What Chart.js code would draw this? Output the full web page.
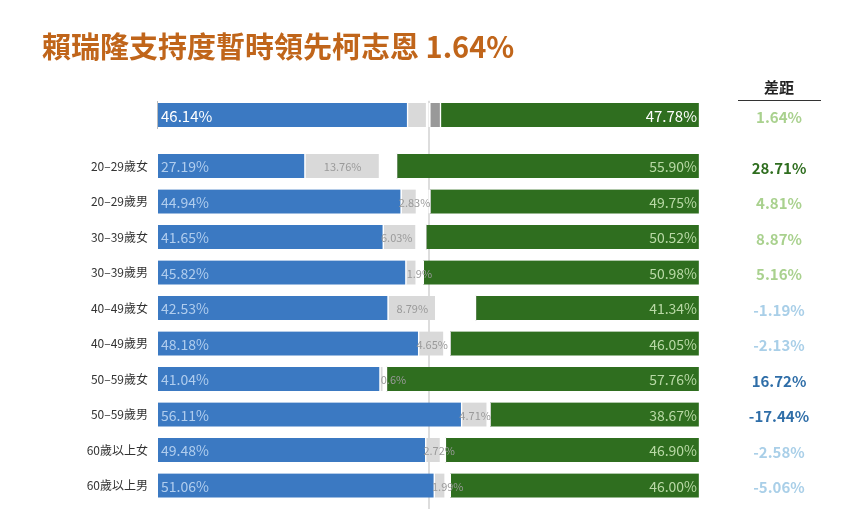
<!DOCTYPE html>
<html><head><meta charset="utf-8">
<script src="https://cdn.jsdelivr.net/npm/chart.js@4.4.1/dist/chart.umd.min.js"></script>
<style>body{margin:0;background:#fff}#w{position:relative;width:853px;height:521px}</style>
</head><body><div id="w"><canvas id="c"></canvas></div>
<script>
const title = '賴瑞隆支持度暫時領先柯志恩 1.64%';
const categories = ['整體','20–29歲女','20–29歲男','30–39歲女','30–39歲男','40–49歲女','40–49歲男','50–59歲女','50–59歲男','60歲以上女','60歲以上男'];
const laiValues  = [46.14,27.19,44.94,41.65,45.82,42.53,48.18,41.04,56.11,49.48,51.06];
const undecided  = [3.5,13.76,2.83,6.03,1.9,8.79,4.65,0.6,4.71,2.72,1.99];
const keValues   = [47.78,55.90,49.75,50.52,50.98,41.34,46.05,57.76,38.67,46.90,46.00];
const darkGray   = [1.98,0,0,0,0,0,0,0,0,0,0];
const diffLabels = ['1.64%','28.71%','4.81%','8.87%','5.16%','-1.19%','-2.13%','16.72%','-17.44%','-2.58%','-5.06%'];
const diffColors = ['#a9d18e','#2f6e1f','#a9d18e','#a9d18e','#a9d18e','#a9cfe8','#a9cfe8','#2f6ea8','#2f6ea8','#a9cfe8','#a9cfe8'];
const rowPos = [0,1.44,2.44,3.44,4.44,5.44,6.44,7.44,8.44,9.44,10.44];

const gaps = categories.map((_,i)=>i===0?0.6:Math.max(0,100-laiValues[i]-undecided[i]-keValues[i]));
const pts = arr => arr.map((v,i)=>({x:v,y:rowPos[i]}));
const FONT = '"Noto Sans CJK TC","Noto Sans",sans-serif';
const ds = (label,data,color)=>({label,data:pts(data),backgroundColor:color,borderColor:'#fff',borderWidth:{left:0,right:1.5,top:0,bottom:0},borderSkipped:false,barThickness:24,stack:'s'});

const labelPlugin = {
  id:'labels',
  beforeDatasetsDraw(chart){
    const {ctx,chartArea,scales}=chart;
    const x=scales.x.getPixelForValue(50);
    ctx.save();ctx.strokeStyle='#bbb';ctx.lineWidth=1;
    ctx.beginPath();ctx.moveTo(x,chartArea.top);ctx.lineTo(x,chartArea.bottom);
    const x0=scales.x.getPixelForValue(0);const y0=scales.y.getPixelForValue(0);
    ctx.moveTo(x0-0.5,y0-14);ctx.lineTo(x0-0.5,y0+14);ctx.stroke();ctx.restore();
  },
  afterDatasetsDraw(chart){
    const {ctx,scales}=chart;
    const x0=scales.x.getPixelForValue(0), x100=scales.x.getPixelForValue(100);
    ctx.save();ctx.textBaseline='middle';
    const gm=chart.getDatasetMeta(1);
    categories.forEach((c,i)=>{
      const y=scales.y.getPixelForValue(rowPos[i]);
      const top=i===0;
      ctx.font=(top?'15px ':'14px ')+FONT;
      ctx.textAlign='left';ctx.fillStyle=top?'#fff':'#b0cdee';
      ctx.fillText(laiValues[i].toFixed(2)+'%',x0+3,y+1);
      ctx.textAlign='right';ctx.fillStyle=top?'#fff':'#b9d9a6';
      ctx.fillText(keValues[i].toFixed(2)+'%',x100-3,y+1);
      if(!top){
        const el=gm.data[i];
        ctx.font='11px '+FONT;ctx.textAlign='center';ctx.fillStyle='#9a9a9a';
        const w=Math.abs(el.x-el.base);
        ctx.fillText(undecided[i].toFixed(2).replace(/0$/,'')+'%',w>40?(el.x+el.base)/2:el.base+13,y+1);
        ctx.font='12px '+FONT;ctx.textAlign='right';ctx.fillStyle='#333';
        ctx.fillText(c,148,y);
      }
      ctx.font='bold 15px '+FONT;ctx.textAlign='center';ctx.fillStyle=diffColors[i];
      ctx.fillText(diffLabels[i],779,y+2);
    });
    ctx.font='bold 15px '+FONT;ctx.fillStyle='#222';ctx.textAlign='center';
    ctx.fillText('差距',779,87);
    ctx.strokeStyle='#333';ctx.lineWidth=1;ctx.beginPath();ctx.moveTo(738,100.5);ctx.lineTo(821,100.5);ctx.stroke();
    ctx.font='bold 29px '+FONT;ctx.textAlign='left';ctx.fillStyle='#c0651a';
    ctx.fillText(title,42,47);
    ctx.restore();
  }
};

new Chart(document.getElementById('c'),{
  type:'bar',
  data:{datasets:[
    ds('賴瑞隆',laiValues,'#3b79c2'),
    ds('未決定',undecided,'#d9d9d9'),
    ds('間隔',gaps,'rgba(0,0,0,0)'),
    ds('其他',darkGray,'#999999'),
    ds('柯志恩',keValues,'#2f6e1f')
  ]},
  options:{
    indexAxis:'y',responsive:true,maintainAspectRatio:false,animation:false,
    layout:{padding:{left:158,right:153,top:100.8,bottom:12}},
    scales:{
      x:{type:'linear',min:0,max:100,stacked:true,display:false},
      y:{type:'linear',min:-0.4,max:11.1,reverse:true,stacked:true,display:false,offset:false}
    },
    plugins:{legend:{display:false},tooltip:{enabled:false}}
  },
  plugins:[labelPlugin]
});
</script></body></html>
